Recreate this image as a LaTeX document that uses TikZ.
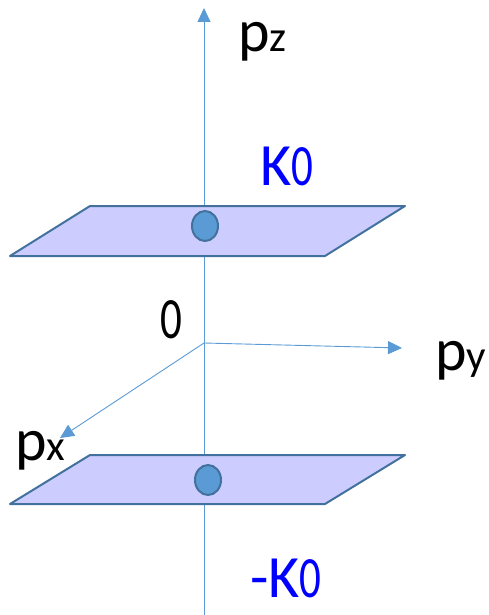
\documentclass[tikz,border=0pt]{standalone}
\usepackage{fontspec}
\setmainfont[Numbers=Lining]{Carlito}
\usetikzlibrary{arrows.meta}
\definecolor{axisblue}{HTML}{5B9BD5}
\definecolor{planefill}{HTML}{CCCCFF}
\definecolor{planeedge}{HTML}{41719C}
\newcommand{\bigf}{\fontsize{60}{66}\selectfont}
\newcommand{\smallf}{\fontsize{43}{48}\selectfont}
\newcommand{\tallzero}{\scalebox{1}[1.36]{0}}
\tikzset{
  axis/.style={draw=axisblue,line width=0.9pt,-{Triangle[length=14pt,width=13pt]}},
  plane/.style={draw=planeedge,fill=planefill,line width=2pt,line join=round},
  dot/.style={draw=planeedge,fill=axisblue,line width=2pt},
  lab/.style={anchor=base west,inner sep=0pt}
}
\begin{document}
\begin{tikzpicture}[x=1pt,y=-1pt]
\useasboundingbox (0,0) rectangle (488,615);
\coordinate (O) at (204,343);
\coordinate (zbot) at (204,615);
\coordinate (ztip) at (204,8);
\coordinate (ytip) at (402,348);
\coordinate (xtip) at (60,438);
\draw[axis] (zbot)--(ztip);
\draw[axis] (O)--(ytip);
\draw[axis] (O)--(xtip);
% planes at +K0 and -K0
\draw[plane] (90,206)--(405,206)--(325,256)--(10,256)--cycle;
\draw[dot] (205,226) ellipse (13 and 15);
\draw[plane] (90,455)--(405,455)--(325,504)--(10,504)--cycle;
\draw[dot] (208,480) ellipse (13 and 15);
\node[lab] (pz) at (238,52) {\bigf p\smallf z};
\node[lab] (py) at (435,370) {\bigf p\smallf y};
\node[lab] (px) at (15,460) {\bigf p\smallf x};
\node[lab] (zero) at (160,338) {\smallf\tallzero};
\node[lab,text=blue] (kup) at (260,185) {\bigf K\smallf\tallzero};
\node[lab,text=blue] (kdown) at (250,597) {\bigf -K\smallf\tallzero};
\end{tikzpicture}
\end{document}
